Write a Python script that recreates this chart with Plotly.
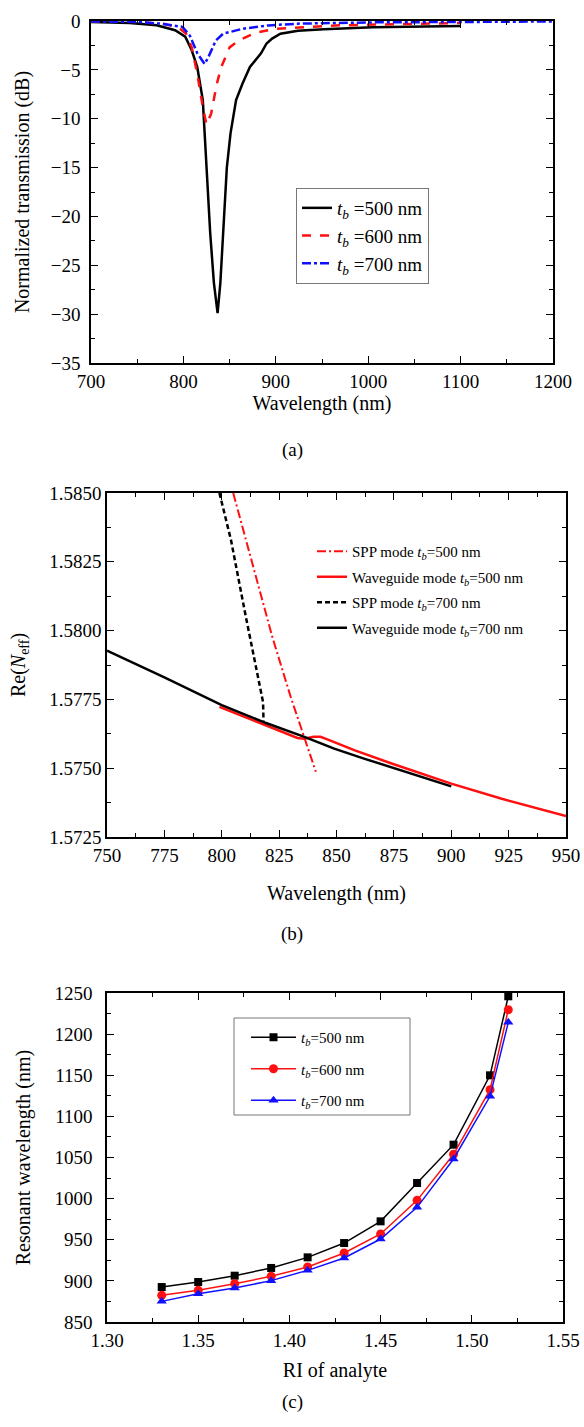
import plotly.graph_objects as go

# ---------------- Panel (a) data ----------------
a_x_500 = [700, 742, 771, 791, 802, 809, 815, 821, 823, 829, 833, 837, 840, 843, 847, 851, 857, 864, 872, 884, 890, 896, 905, 924, 952, 1005, 1100]
a_y_500 = [-0.1, -0.2, -0.44, -0.95, -1.6, -3.0, -4.7, -8.1, -11.5, -21.7, -26.8, -29.9, -26.8, -21.7, -15, -11.5, -8.1, -6.4, -4.7, -3.3, -2.3, -1.8, -1.3, -1.0, -0.85, -0.65, -0.5]
a_x_600 = [700, 750, 780, 795, 803, 809, 815, 821, 825, 830, 836, 841, 850, 860, 878, 900, 965, 1045, 1100]
a_y_600 = [-0.05, -0.1, -0.3, -0.7, -1.3, -2.7, -5.4, -8.8, -10.6, -9.5, -6.5, -4.7, -2.7, -2.0, -1.2, -0.8, -0.45, -0.3, -0.2]
a_x_700 = [700, 750, 775, 799, 807, 815, 823, 827, 835, 843, 864, 892, 924, 1005, 1100, 1200]
a_y_700 = [-0.05, -0.1, -0.27, -0.6, -1.5, -3.3, -4.4, -3.7, -2.0, -1.3, -0.8, -0.45, -0.27, -0.14, -0.1, -0.05]

# ---------------- Panel (b) data ----------------
b_spp500_x = [805, 814, 822, 830, 835, 841]
b_spp500_y = [1.5850, 1.58221, 1.57978, 1.57760, 1.57638, 1.57487]
b_wg500_x = [799, 817, 827, 833, 836, 840, 843, 846, 858, 874, 900, 922, 950]
b_wg500_y = [1.57723, 1.57663, 1.57632, 1.57610, 1.57607, 1.57614, 1.57614, 1.57605, 1.57565, 1.57517, 1.57444, 1.57389, 1.57326]
b_spp700_x = [799, 804, 810.5, 816, 818, 818.2]
b_spp700_y = [1.5850, 1.5833, 1.5805, 1.5782, 1.5774, 1.5767]
b_wg700_x = [750, 775, 800, 819, 836, 849, 862, 882, 900]
b_wg700_y = [1.57927, 1.57830, 1.57729, 1.57665, 1.57614, 1.57571, 1.57535, 1.57481, 1.57434]

# ---------------- Panel (c) data ----------------
c_ri = [1.33, 1.35, 1.37, 1.39, 1.41, 1.43, 1.45, 1.47, 1.49, 1.51, 1.52]
c_500 = [892.5, 898.6, 906.3, 915.7, 928.6, 946.0, 972.4, 1019.0, 1065.6, 1149.9, 1246.0]
c_600 = [882.4, 888.5, 896.6, 905.5, 916.9, 933.9, 957.0, 997.9, 1053.9, 1132.5, 1229.7]
c_700 = [875.1, 884.4, 891.3, 900.3, 912.8, 927.8, 950.9, 989.4, 1048.2, 1124.4, 1214.3]

FONT = "Liberation Serif, Times New Roman, serif"
TB = "<i>t</i><sub><i>b</i></sub>"

fig = go.Figure()

# Panel (a)
fig.add_trace(go.Scatter(x=a_x_500, y=a_y_500, mode="lines", name=TB + " =500 nm",
                         line=dict(color="black", width=2.5), xaxis="x", yaxis="y",
                         legend="legend", legendgroup="a1"))
fig.add_trace(go.Scatter(x=a_x_600, y=a_y_600, mode="lines", name=TB + " =600 nm",
                         line=dict(color="#ff1010", width=2.5, dash="dash"), xaxis="x", yaxis="y",
                         legend="legend", legendgroup="a2"))
fig.add_trace(go.Scatter(x=a_x_700, y=a_y_700, mode="lines", name=TB + " =700 nm",
                         line=dict(color="#1010ff", width=2.5, dash="dashdot"), xaxis="x", yaxis="y",
                         legend="legend", legendgroup="a3"))

# Panel (b)
fig.add_trace(go.Scatter(x=b_spp500_x, y=b_spp500_y, mode="lines", name="SPP mode " + TB + "=500 nm",
                         line=dict(color="#ff1010", width=2, dash="9px,3px,2px,3px"), xaxis="x2", yaxis="y2",
                         legend="legend2", legendgroup="b1"))
fig.add_trace(go.Scatter(x=b_wg500_x, y=b_wg500_y, mode="lines", name="Waveguide mode " + TB + "=500 nm",
                         line=dict(color="#ff1010", width=2.5), xaxis="x2", yaxis="y2",
                         legend="legend2", legendgroup="b2"))
fig.add_trace(go.Scatter(x=b_spp700_x, y=b_spp700_y, mode="lines", name="SPP mode " + TB + "=700 nm",
                         line=dict(color="black", width=2.5, dash="5px,3px"), xaxis="x2", yaxis="y2",
                         legend="legend2", legendgroup="b3"))
fig.add_trace(go.Scatter(x=b_wg700_x, y=b_wg700_y, mode="lines", name="Waveguide mode " + TB + "=700 nm",
                         line=dict(color="black", width=2.5), xaxis="x2", yaxis="y2",
                         legend="legend2", legendgroup="b4"))

# Panel (c)
fig.add_trace(go.Scatter(x=c_ri, y=c_500, mode="lines+markers", name=TB + "=500 nm",
                         line=dict(color="black", width=1.5),
                         marker=dict(symbol="square", size=8, color="black"),
                         xaxis="x3", yaxis="y3", legend="legend3", legendgroup="c1"))
fig.add_trace(go.Scatter(x=c_ri, y=c_600, mode="lines+markers", name=TB + "=600 nm",
                         line=dict(color="#ff1010", width=1.5),
                         marker=dict(symbol="circle", size=9, color="#ff1010"),
                         xaxis="x3", yaxis="y3", legend="legend3", legendgroup="c2"))
fig.add_trace(go.Scatter(x=c_ri, y=c_700, mode="lines+markers", name=TB + "=700 nm",
                         line=dict(color="#1010ff", width=1.5),
                         marker=dict(symbol="triangle-up", size=9, color="#1010ff"),
                         xaxis="x3", yaxis="y3", legend="legend3", legendgroup="c3"))

W, H = 584, 1427


def px_x(v):
    return v / W


def px_y(v):
    return 1 - v / H


def ax(domain, rng, dtick, minor_dtick, title=None, fmt=None, anchor=None, standoff=None, tickfont=19,
       labelgap=None):
    d = dict(domain=domain, range=rng, dtick=dtick, tick0=rng[0], ticks="inside", ticklen=7, tickwidth=1.3,
             tickcolor="black", showline=True, linecolor="black", linewidth=1.5, mirror="allticks",
             showgrid=False, zeroline=False, automargin=False,
             tickfont=dict(family=FONT, size=tickfont, color="black"),
             minor=dict(ticks="inside", ticklen=4, tickwidth=1.3, dtick=minor_dtick, tickcolor="black", showgrid=False),
             anchor=anchor)
    if labelgap is not None:
        d["ticklabelstandoff"] = labelgap
    if fmt:
        d["tickformat"] = fmt
    if title:
        d["title"] = dict(text=title, font=dict(family=FONT, size=20, color="black"))
        if standoff is not None:
            d["title"]["standoff"] = standoff
    return d


fig.update_layout(
    width=W, height=H, margin=dict(l=0, r=0, t=0, b=0, autoexpand=False),
    paper_bgcolor="white", plot_bgcolor="white",
    font=dict(family=FONT, color="black"),
    xaxis=ax([px_x(91), px_x(553)], [700, 1200], 100, 50, "Wavelength (nm)", anchor="y", standoff=0),
    yaxis=ax([px_y(363), px_y(21)], [-35, 0], 5, 2.5, "Normalized transmission (dB)", anchor="x", standoff=16,
             labelgap=5),
    xaxis2=ax([px_x(107), px_x(566)], [750, 950], 25, 12.5, "Wavelength (nm)", anchor="y2", standoff=21),
    yaxis2=ax([px_y(837), px_y(493)], [1.5725, 1.5850], 0.0025, 0.00125, "Re(<i>N</i><sub>eff</sub>)",
              fmt=".4f", anchor="x2", standoff=18),
    xaxis3=ax([px_x(107), px_x(563)], [1.30, 1.55], 0.05, 0.025, "RI of analyte", fmt=".2f", anchor="y3", standoff=13),
    yaxis3=ax([px_y(1322), px_y(993)], [850, 1250], 50, 25, "Resonant wavelength (nm)", anchor="x3", standoff=18,
              labelgap=9),
    legend=dict(x=px_x(296), y=px_y(188), xanchor="left", yanchor="top",
                bordercolor="#777777", borderwidth=1, bgcolor="white",
                font=dict(family=FONT, size=19, color="black"), tracegroupgap=0, traceorder="grouped"),
    legend2=dict(x=px_x(312), y=px_y(535), xanchor="left", yanchor="top",
                 borderwidth=0, bgcolor="rgba(0,0,0,0)",
                 font=dict(family=FONT, size=15, color="black"), tracegroupgap=3, traceorder="grouped"),
    legend3=dict(x=px_x(246), y=px_y(1021), xanchor="left", yanchor="top", itemwidth=45,
                 borderwidth=0, bgcolor="rgba(0,0,0,0)",
                 font=dict(family=FONT, size=15, color="black"), tracegroupgap=9, traceorder="grouped"),
    shapes=[
        dict(type="rect", xref="paper", yref="paper", x0=px_x(234), x1=px_x(410), y0=px_y(1115), y1=px_y(1018),
             line=dict(color="#777777", width=1), fillcolor="rgba(0,0,0,0)", layer="above"),
    ],
    annotations=[
        dict(text="(a)", x=px_x(292), y=px_y(437), xref="paper", yref="paper", showarrow=False,
             font=dict(family=FONT, size=19, color="black")),
        dict(text="(b)", x=px_x(292), y=px_y(934), xref="paper", yref="paper", showarrow=False,
             font=dict(family=FONT, size=19, color="black")),
        dict(text="(c)", x=px_x(292), y=px_y(1415), xref="paper", yref="paper", showarrow=False,
             font=dict(family=FONT, size=19, color="black")),
    ],
)

fig.write_html("out.html", config={"displayModeBar": False},
               post_script="document.body.style.margin='0';document.body.style.overflow='hidden';")
